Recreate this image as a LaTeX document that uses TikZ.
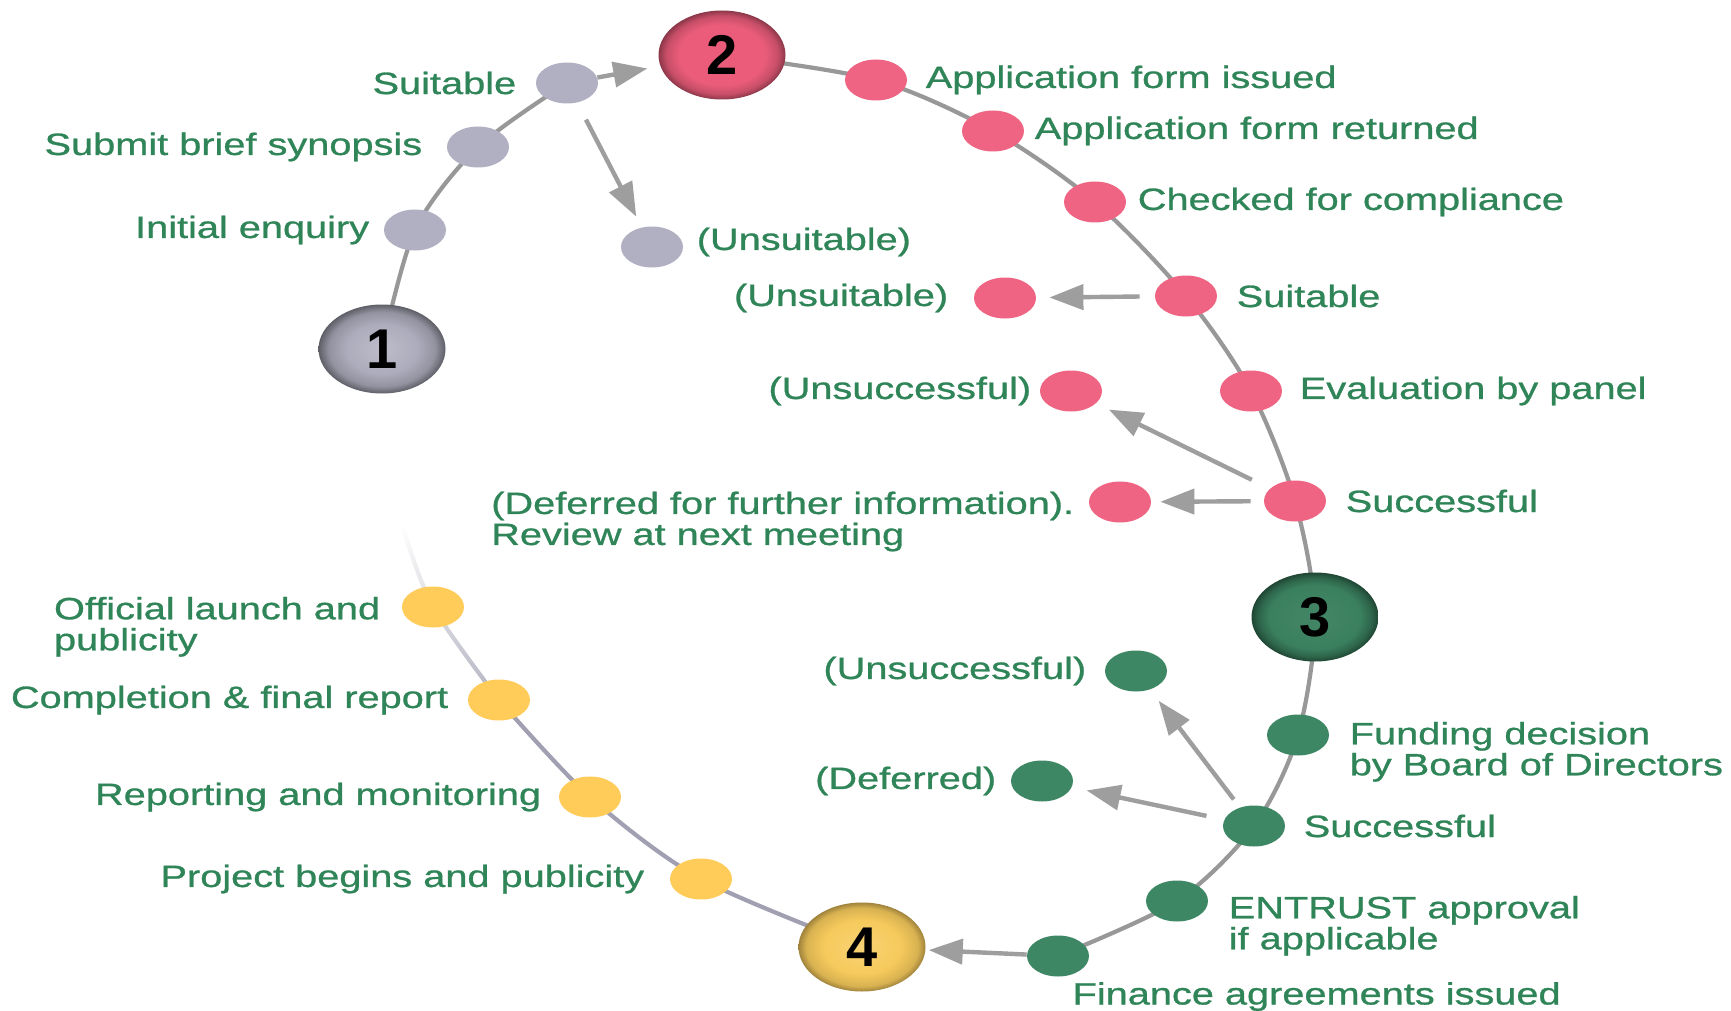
\documentclass[tikz,border=0pt]{standalone}
\usepackage{fontspec}
\usepackage{tikz}
\usetikzlibrary{arrows.meta}
\usetikzlibrary{calc}
\usetikzlibrary{positioning}
\usetikzlibrary{shapes.geometric}
\usetikzlibrary{fadings}
\usepackage{xcolor}
\newfontfamily\lblfont[FakeStretch=1.29,FakeBold=0.9]{Liberation Sans}
\newfontfamily\numfont{Liberation Sans}
\definecolor{txtgreen}{RGB}{47,133,88}
\definecolor{dotgray}{RGB}{176,176,194}
\definecolor{dotpink}{RGB}{238,100,130}
\definecolor{dotgreen}{RGB}{62,135,100}
\definecolor{dotyellow}{RGB}{255,204,90}
\definecolor{linegray}{RGB}{152,152,152}
\definecolor{fadegray}{RGB}{160,160,178}
\definecolor{arrgray}{RGB}{158,158,158}
\definecolor{stageone}{RGB}{172,172,188}
\definecolor{stagetwo}{RGB}{234,92,122}
\definecolor{stagethree}{RGB}{58,128,94}
\definecolor{stagefour}{RGB}{246,202,92}
\pgfdeclareradialshading{ballone}{\pgfpoint{0bp}{0bp}}{color(0bp)=(stageone!80!white); color(14bp)=(stageone); color(21bp)=(stageone!85!black); color(25bp)=(stageone!55!black); color(50bp)=(stageone!55!black)}
\pgfdeclareradialshading{balltwo}{\pgfpoint{0bp}{0bp}}{color(0bp)=(stagetwo); color(17bp)=(stagetwo); color(22bp)=(stagetwo!85!black); color(25bp)=(stagetwo!60!black); color(50bp)=(stagetwo!60!black)}
\pgfdeclareradialshading{ballthree}{\pgfpoint{0bp}{0bp}}{color(0bp)=(stagethree!95!white); color(18bp)=(stagethree); color(22bp)=(stagethree!80!black); color(25bp)=(stagethree!55!black); color(50bp)=(stagethree!55!black)}
\pgfdeclareradialshading{ballfour}{\pgfpoint{0bp}{0bp}}{color(0bp)=(stagefour!85!white); color(15bp)=(stagefour); color(22bp)=(stagefour!88!black); color(25bp)=(stagefour!65!black); color(50bp)=(stagefour!65!black)}
\pgfdeclarelayer{bg}
\pgfsetlayers{bg,main}

\begin{document}
\begin{tikzpicture}[x=0.5pt,y=-0.5pt,
    spot/.style={ellipse,minimum width=31pt,minimum height=20.5pt,inner sep=0pt},
    stage/.style={ellipse,shade,minimum width=63.5pt,minimum height=44.5pt,inner sep=0pt,
        font=\numfont\bfseries\fontsize{28}{28}\selectfont},
    lbl/.style={text=txtgreen,font=\lblfont\fontsize{15.4}{15.5}\selectfont,inner sep=0pt,align=left},
    track/.style={linegray,line width=2.1pt},
    arr/.style={-{Triangle[length=17pt,width=12.5pt]},draw=arrgray,line width=2.2pt}]
    \useasboundingbox (0,0) rectangle (1731,1011);

    % stages
    \node[stage,shading=ballone] (s1) at (382,349) {1};
    \node[stage,shading=balltwo] (s2) at (722,55) {2};
    \node[stage,shading=ballthree] (s3) at (1315,617) {3};
    \node[stage,shading=ballfour] (s4) at (862,947) {4};

    % stage 1
    \node[spot,fill=dotgray] (enq) at (415,230) {};
    \node[spot,fill=dotgray] (syn) at (478,147) {};
    \node[spot,fill=dotgray] (suitA) at (567,83) {};
    \node[spot,fill=dotgray] (unsuitA) at (652,247) {};
    \node[lbl,left=7pt of enq] {Initial enquiry};
    \node[lbl,left=12pt of syn] {Submit brief synopsis};
    \node[lbl,left=9.5pt of suitA] {Suitable};
    \node[lbl,right=6.5pt of unsuitA,yshift=2.5pt] {(Unsuitable)};

    % stage 2
    \node[spot,fill=dotpink] (issued) at (876,80) {};
    \node[spot,fill=dotpink] (returned) at (993,131) {};
    \node[spot,fill=dotpink] (checked) at (1095,202) {};
    \node[spot,fill=dotpink] (suitB) at (1186,296) {};
    \node[spot,fill=dotpink] (unsuitB) at (1005,298) {};
    \node[spot,fill=dotpink] (panel) at (1251,391) {};
    \node[spot,fill=dotpink] (unsuccB) at (1071,391) {};
    \node[spot,fill=dotpink] (succB) at (1295,501) {};
    \node[spot,fill=dotpink] (deferB) at (1120,502) {};
    \node[lbl,right=9pt of issued] {Application form issued};
    \node[lbl,right=5pt of returned] {Application form returned};
    \node[lbl,right=5.5pt of checked] {Checked for compliance};
    \node[lbl,right=9.5pt of suitB] {Suitable};
    \node[lbl,left=12.5pt of unsuitB] {(Unsuitable)};
    \node[lbl,right=8.5pt of panel] {Evaluation by panel};
    \node[lbl,left=4pt of unsuccB] {(Unsuccessful)};
    \node[lbl,right=9.5pt of succB] {Successful};
    \node[lbl,left=7pt of deferB,yshift=-9.75pt] {(Deferred for further information).\\Review at next meeting};

    % stage 3
    \node[spot,fill=dotgreen] (unsuccC) at (1136,671) {};
    \node[spot,fill=dotgreen] (board) at (1298,735) {};
    \node[spot,fill=dotgreen] (deferC) at (1042,781) {};
    \node[spot,fill=dotgreen] (succC) at (1254,826) {};
    \node[spot,fill=dotgreen] (entrust) at (1177,901) {};
    \node[spot,fill=dotgreen] (finance) at (1058,956) {};
    \node[lbl,left=9pt of unsuccC] {(Unsuccessful)};
    \node[lbl,right=10pt of board,yshift=-8.4pt] {Funding decision\\by Board of Directors};
    \node[lbl,left=7pt of deferC] {(Deferred)};
    \node[lbl,right=9pt of succC] {Successful};
    \node[lbl,right=10pt of entrust,yshift=-12.4pt] {ENTRUST approval\\if applicable};
    \node[lbl,below right=5.5pt and -4pt of finance] {Finance agreements issued};

    % stage 4
    \node[spot,fill=dotyellow] (launch) at (433,607) {};
    \node[spot,fill=dotyellow] (final) at (499,700) {};
    \node[spot,fill=dotyellow] (monitor) at (590,797) {};
    \node[spot,fill=dotyellow] (begins) at (701,879) {};
    \coordinate (fadetop) at (403,528);
    \node[lbl,left=10.5pt of launch,yshift=-9.9pt] {Official launch and\\publicity};
    \node[lbl,left=9.5pt of final] {Completion \& final report};
    \node[lbl,left=8.5pt of monitor] {Reporting and monitoring};
    \node[lbl,left=12.5pt of begins] {Project begins and publicity};

    % track
    \begin{pgfonlayer}{bg}
        \fill[white] (0,0) rectangle (1731,1011);
        \draw[track] plot[smooth] coordinates {(s1) (enq) (syn) (suitA)};
        \draw[track] plot[smooth] coordinates {(s2) (issued) (returned) (checked) (suitB) (panel) (succB) (s3) (board) (succC) (entrust) (finance)};
        \draw[track,fadegray] plot[smooth] coordinates {(s4) (begins) (monitor) (final)};
        \draw[track,fadegray!80,path fading=north] plot[smooth] coordinates {(final) (launch) (fadetop)};
    \end{pgfonlayer}

    % arrows
    \draw[arr,shorten >=6.5pt] (suitA) -- (s2);
    \draw[arr,shorten <=9.5pt,shorten >=6pt] (suitA) -- (unsuitA);
    \draw[arr,shorten <=7.5pt,shorten >=6.5pt] (suitB) -- (unsuitB);
    \draw[arr,shorten <=10pt,shorten >=7pt] (succB) -- (unsuccB);
    \draw[arr,shorten <=6.5pt,shorten >=4.5pt] (succB) -- (deferB);
    \draw[arr,shorten <=5pt,shorten >=7pt] (succC) -- (unsuccC);
    \draw[arr,shorten <=9pt,shorten >=7.5pt] (succC) -- (deferC);
    \draw[arr,shorten >=1.5pt] (finance) -- (s4);
\end{tikzpicture}
\end{document}
